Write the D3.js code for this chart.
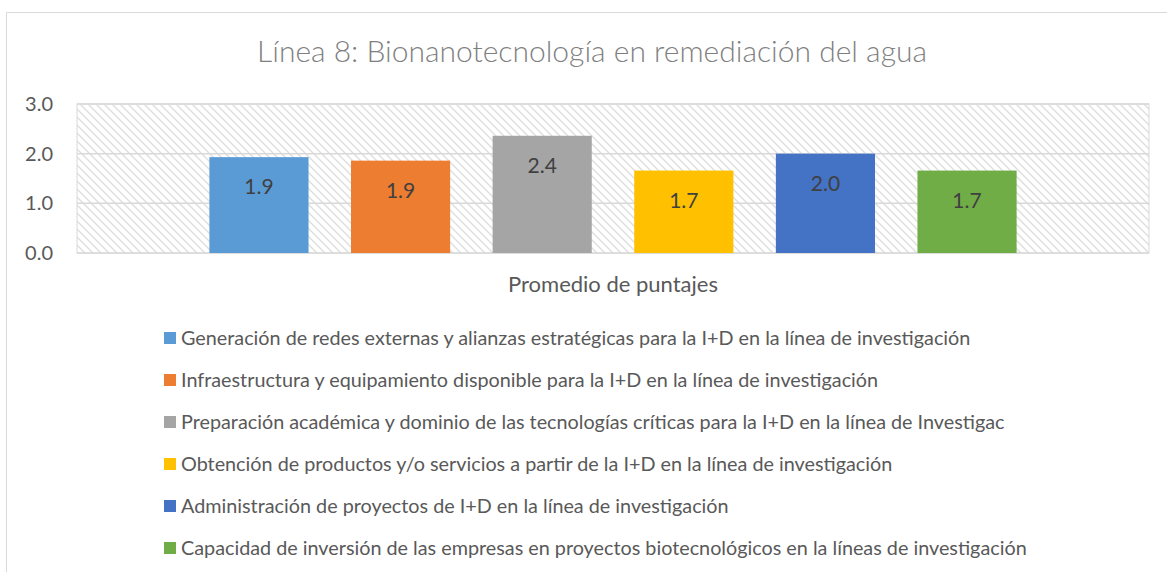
<!DOCTYPE html>
<html>
<head>
<meta charset="utf-8">
<script src="https://cdn.jsdelivr.net/npm/d3@7"></script>
<style>
  body { margin: 0; background: #fff; }
  text { font-family: Lato, "Open Sans", sans-serif; }
</style>
</head>
<body>
<svg id="chart"></svg>
<script>
// data
var category = ["Promedio de puntajes"]
var series = [
  "Generación de redes externas y alianzas estratégicas para la I+D en la línea de investigación",
  "Infraestructura y equipamiento disponible para la I+D en la línea de investigación",
  "Preparación académica y dominio de las tecnologías críticas para la I+D en la línea de Investigac",
  "Obtención de productos y/o servicios a partir de la I+D en la línea de investigación",
  "Administración de proyectos de I+D en la línea de investigación",
  "Capacidad de inversión de las empresas en proyectos biotecnológicos en la líneas de investigación"
]
var values = [1.93, 1.86, 2.36, 1.66, 2.0, 1.66]
var colors = ["#5B9BD5", "#ED7D31", "#A5A5A5", "#FFC000", "#4472C4", "#70AD47"]
var yTicks = [0, 1, 2, 3]
var title = "Línea 8: Bionanotecnología en remediación del agua"

var width = 1167
var height = 572

var svg = d3.select("#chart")
    .attr("width", width)
    .attr("height", height)

// hatch pattern for plot background
var defs = svg.append("defs")
var pat = defs.append("pattern")
    .attr("id", "hatch")
    .attr("patternUnits", "userSpaceOnUse")
    .attr("width", 8)
    .attr("height", 8)
pat.append("rect").attr("width", 8).attr("height", 8).attr("fill", "#fff")
pat.append("path")
    .attr("d", "M-2,-2 L10,10 M-2,6 L2,10 M6,-2 L10,2")
    .attr("stroke", "#dedede")
    .attr("stroke-width", 1.4)

// chart frame
svg.append("path")
    .attr("d", "M6.5," + height + " V12.5 H" + width)
    .attr("fill", "none")
    .attr("stroke", "#d9d9d9")
    .attr("stroke-width", 1)

var plot = {left: 77, right: 1149, top: 104, bottom: 253}

var y = d3.scaleLinear()
    .domain([0, 3])
    .range([plot.bottom, plot.top])

var x0 = d3.scaleBand()
    .domain(category)
    .range([plot.left, plot.right])
    .paddingOuter(0.164)
    .paddingInner(0)

var x1 = d3.scaleBand()
    .domain(series)
    .range([0, x0.bandwidth()])
    .paddingInner(0.3)
    .paddingOuter(0)

// plot area background
svg.append("rect")
    .attr("x", plot.left)
    .attr("y", plot.top)
    .attr("width", plot.right - plot.left)
    .attr("height", plot.bottom - plot.top)
    .attr("fill", "url(#hatch)")
    .attr("stroke", "#d9d9d9")
    .attr("stroke-width", 1)

// gridlines
svg.append("g")
    .selectAll("line")
    .data(yTicks)
    .enter()
    .append("line")
    .attr("x1", plot.left)
    .attr("x2", plot.right)
    .attr("y1", function(d){ return y(d) })
    .attr("y2", function(d){ return y(d) })
    .attr("stroke", "#d9d9d9")
    .attr("stroke-width", 1.5)

// y axis
var yAxis = d3.axisLeft(y)
    .tickValues(yTicks)
    .tickFormat(d3.format(".1f"))
    .tickSize(0)
    .tickPadding(24)

var gy = svg.append("g")
    .attr("transform", "translate(" + plot.left + ",0)")
    .call(yAxis)
gy.select(".domain").remove()
gy.selectAll("text")
    .attr("fill", "#595959")
    .style("font-size", "20px")
    .style("font-family", "Lato, sans-serif")

// bars
var bars = svg.append("g")
    .attr("transform", "translate(" + x0(category[0]) + ",0)")

bars.selectAll("rect")
    .data(values)
    .enter()
    .append("rect")
    .attr("x", function(d, i){ return x1(series[i]) })
    .attr("y", function(d){ return y(d) })
    .attr("width", x1.bandwidth())
    .attr("height", function(d){ return y(0) - y(d) })
    .attr("fill", function(d, i){ return colors[i] })

bars.selectAll("text")
    .data(values)
    .enter()
    .append("text")
    .attr("x", function(d, i){ return x1(series[i]) + x1.bandwidth() / 2 })
    .attr("y", function(d){ return y(d) + 37 })
    .attr("text-anchor", "middle")
    .attr("fill", "#404040")
    .style("font-size", "21px")
    .text(function(d){ return d3.format(".1f")(d) })

// x axis label
svg.append("text")
    .attr("x", x0(category[0]) + x0.bandwidth() / 2)
    .attr("y", 292)
    .attr("text-anchor", "middle")
    .attr("fill", "#595959")
    .style("font-size", "22px")
    .text(category[0])

// title
svg.append("text")
    .attr("x", 592)
    .attr("y", 62)
    .attr("text-anchor", "middle")
    .attr("fill", "#7f7f7f")
    .style("font-size", "30px")
    .style("font-weight", 300)
    .text(title)

// legend
var ly = d3.scalePoint()
    .domain(series)
    .range([338, 548])

var legend = svg.append("g")
    .selectAll("g")
    .data(series)
    .enter()
    .append("g")
    .attr("transform", function(d){ return "translate(164," + ly(d) + ")" })

legend.append("rect")
    .attr("x", 0)
    .attr("y", -6)
    .attr("width", 12)
    .attr("height", 12)
    .attr("fill", function(d, i){ return colors[i] })

legend.append("text")
    .attr("x", 17)
    .attr("y", 0)
    .attr("dy", "0.35em")
    .attr("fill", "#595959")
    .style("font-size", "19.8px")
    .text(function(d){ return d })
</script>
</body>
</html>
